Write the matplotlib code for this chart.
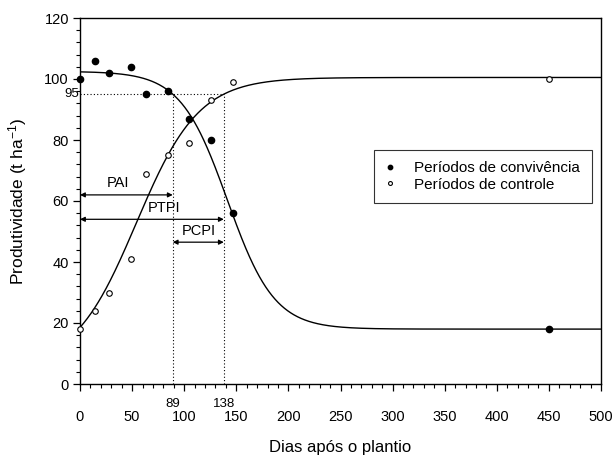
import numpy as np
import matplotlib
matplotlib.use("Agg")
import matplotlib.pyplot as plt
from matplotlib.ticker import MultipleLocator

plt.rcParams['font.family'] = ['Liberation Sans', 'DejaVu Sans']
plt.rcParams['mathtext.fontset'] = 'custom'
plt.rcParams['mathtext.rm'] = 'Liberation Sans'
plt.rcParams['mathtext.it'] = 'Liberation Sans:italic'
plt.rcParams['mathtext.bf'] = 'Liberation Sans:bold'
plt.rcParams['mathtext.default'] = 'regular'

# Data
dias_conv = [0, 14, 28, 49, 63, 84, 105, 126, 147, 450]
prod_conv = [100, 106, 102, 104, 95, 96, 87, 80, 56, 18]
dias_ctrl = [0, 14, 28, 49, 63, 84, 105, 126, 147, 450]
prod_ctrl = [18, 24, 30, 41, 69, 75, 79, 93, 99, 100]

# Fitted (Boltzmann) curve parameters
conv_top, conv_bot, conv_x0, conv_dx = 102.5, 18.0, 141.5, 22.5
ctrl_top, ctrl_bot, ctrl_x0, ctrl_dx = 100.5, 5.0, 54.0, 30.0

pai, ptpi, nivel = 89, 138, 95

fig = plt.figure(figsize=(6.14, 4.59), dpi=100)
ax = fig.add_axes([80/614, 1-384/459, (601-80)/614, (384-18)/459])

xx = np.linspace(0, 500, 1000)
y_conv = conv_bot + (conv_top - conv_bot) / (1 + np.exp((xx - conv_x0) / conv_dx))
y_ctrl = ctrl_bot + (ctrl_top - ctrl_bot) / (1 + np.exp(-(xx - ctrl_x0) / ctrl_dx))
ax.plot(xx, y_conv, color='black', lw=1.0, zorder=2)
ax.plot(xx, y_ctrl, color='black', lw=1.0, zorder=2)

ax.plot(dias_conv, prod_conv, 'o', color='black', ms=4.5, zorder=3,
        label='Períodos de convivência', clip_on=False)
ax.plot(dias_ctrl, prod_ctrl, 'o', mfc='white', mec='black', mew=0.8, ms=4.0,
        zorder=3, label='Períodos de controle', clip_on=False)

# dotted reference lines
dot = dict(color='black', lw=0.8, ls=(0, (1, 2)))
ax.plot([0, ptpi], [nivel, nivel], **dot)
ax.plot([pai, pai], [0, nivel], **dot)
ax.plot([ptpi, ptpi], [0, nivel], **dot)

# period arrows
arr = dict(arrowstyle='<|-|>', color='black', lw=0.9, mutation_scale=7,
           shrinkA=0, shrinkB=0)
ax.annotate('', xy=(pai, 62), xytext=(0, 62), arrowprops=arr)
ax.annotate('', xy=(ptpi, 54), xytext=(0, 54), arrowprops=arr)
ax.annotate('', xy=(ptpi, 46.5), xytext=(pai, 46.5), arrowprops=arr)
ax.text(36, 63.5, 'PAI', ha='center', va='bottom', fontsize=10.5)
ax.text(81, 55.5, 'PTPI', ha='center', va='bottom', fontsize=10.5)
ax.text(114, 48, 'PCPI', ha='center', va='bottom', fontsize=10.5)

ax.set_xlim(0, 500)
ax.set_ylim(0, 120)
ax.xaxis.set_major_locator(MultipleLocator(50))
ax.xaxis.set_minor_locator(MultipleLocator(10))
ax.yaxis.set_major_locator(MultipleLocator(20))
ax.yaxis.set_minor_locator(MultipleLocator(4))
ax.tick_params(axis='both', which='major', length=5, width=0.9, direction='out',
               labelsize=10.5)
ax.tick_params(axis='both', which='minor', length=3, width=0.8, direction='out')
ax.tick_params(axis='x', which='major', pad=14)
ax.tick_params(axis='y', which='major', pad=3)
for s in ax.spines.values():
    s.set_linewidth(1.0)
    s.set_color('black')

# special labels
ax.text(pai, -4.5, str(pai), ha='center', va='top', fontsize=9.5)
ax.text(ptpi, -4.5, str(ptpi), ha='center', va='top', fontsize=9.5)
ax.text(-0.5, nivel, str(nivel), ha='right', va='center', fontsize=9.5)

ax.set_xlabel('Dias após o plantio', fontsize=12)
ax.xaxis.set_label_coords(0.5, -0.152)
ax.set_ylabel('Produtividade (t ha$^{-1}$)', fontsize=12.5)
ax.yaxis.set_label_coords(-0.098, 0.5)

leg = ax.legend(loc='upper left', bbox_to_anchor=((374-80)/521, 1-(150-18)/366),
                frameon=True, fancybox=False, fontsize=11, handlelength=0.6,
                handletextpad=1.3, borderpad=0.75, labelspacing=0.15,
                borderaxespad=0, markerscale=0.7)
leg.get_frame().set_edgecolor('black')
leg.get_frame().set_linewidth(0.8)

fig.savefig('out.png', dpi=100)
